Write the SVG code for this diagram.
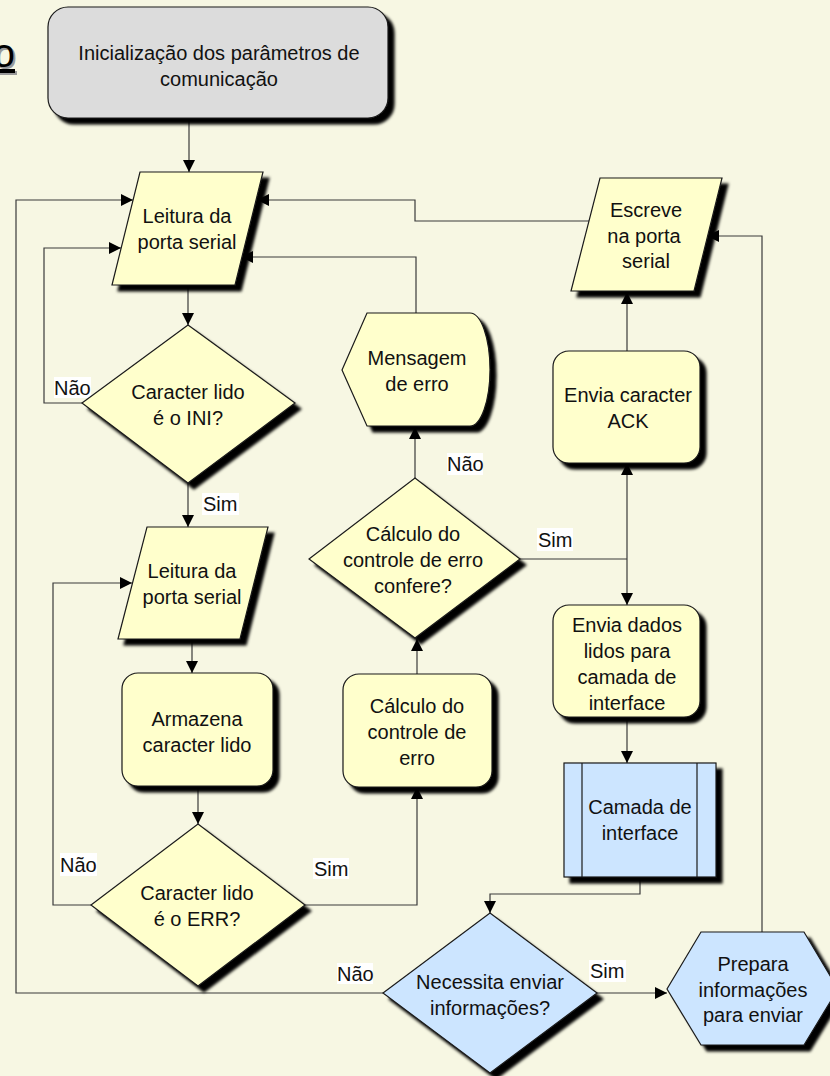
<svg xmlns="http://www.w3.org/2000/svg" width="830" height="1076" viewBox="0 0 830 1076">
  <style>
    .bg { fill: #F7F7E3; }
    .shape { stroke: #1a1a1a; stroke-width: 1.2; filter: url(#shadow); }
    .yellow { fill: #FFFFCC; }
    .blue { fill: #CCE5FF; }
    .gray { fill: #DCDCDC; }
    .t { font-family: "Liberation Sans", Arial, sans-serif; font-size: 20px; fill: #111; text-anchor: middle; }
    .conn { fill: none; stroke: #3a3a3a; stroke-width: 1.2; }
    .lblbox { fill: #FFFFFF; }
    .lbl { font-family: "Liberation Sans", Arial, sans-serif; font-size: 20px; fill: #111; }
  </style>
  <defs>
    <filter id="shadow" x="-10%" y="-10%" width="130%" height="130%">
      <feGaussianBlur in="SourceAlpha" stdDeviation="1.6"/>
      <feOffset dx="6" dy="6"/>
      <feComponentTransfer><feFuncA type="linear" slope="1"/></feComponentTransfer>
      <feMerge><feMergeNode/><feMergeNode in="SourceGraphic"/></feMerge>
    </filter>
    <marker id="arrow" markerUnits="userSpaceOnUse" markerWidth="12" markerHeight="12" refX="12" refY="6" orient="auto">
      <path d="M0,0 L12,6 L0,12 Z" fill="#000"/>
    </marker>
  </defs>

  <rect class="bg" x="0" y="0" width="830" height="1076"/>

  <!-- title fragment, running off the left edge -->
  <g id="title">
    <text x="17" y="69" font-family="Liberation Sans, Arial, sans-serif" font-size="40" fill="#999" text-anchor="end" text-decoration="underline">o</text>
    <text x="15" y="67" font-family="Liberation Sans, Arial, sans-serif" font-size="40" fill="#000" text-anchor="end" text-decoration="underline">o</text>
  </g>

  <!-- connectors -->
  <g id="connectors">
    <path class="conn" d="M189,118 V172" marker-end="url(#arrow)"/>
    <path class="conn" d="M188,285 V325" marker-end="url(#arrow)"/>
    <path class="conn" d="M82,403 H44 V248 H121" marker-end="url(#arrow)"/>
    <path class="conn" d="M188,483 V527" marker-end="url(#arrow)"/>
    <path class="conn" d="M192,639 V673" marker-end="url(#arrow)"/>
    <path class="conn" d="M198,786 V824" marker-end="url(#arrow)"/>
    <path class="conn" d="M91,905 H53 V583 H132" marker-end="url(#arrow)"/>
    <path class="conn" d="M305,905 H417 V787" marker-end="url(#arrow)"/>
    <path class="conn" d="M417,674 V639" marker-end="url(#arrow)"/>
    <path class="conn" d="M415,478 V427" marker-end="url(#arrow)"/>
    <path class="conn" d="M416,313 V257 H241" marker-end="url(#arrow)"/>
    <path class="conn" d="M520,559 H627"/>
    <path class="conn" d="M627,559 V463" marker-end="url(#arrow)"/>
    <path class="conn" d="M627,559 V605" marker-end="url(#arrow)"/>
    <path class="conn" d="M627,351 V292" marker-end="url(#arrow)"/>
    <path class="conn" d="M589,221 H415 V200 H257" marker-end="url(#arrow)"/>
    <path class="conn" d="M627,717 V763" marker-end="url(#arrow)"/>
    <path class="conn" d="M640,877 V894 H490 V913" marker-end="url(#arrow)"/>
    <path class="conn" d="M383,993 H16 V200 H133" marker-end="url(#arrow)"/>
    <path class="conn" d="M597,993 H667" marker-end="url(#arrow)"/>
    <path class="conn" d="M762,932 V236 H707" marker-end="url(#arrow)"/>
  </g>

  <!-- connector labels -->
  <g id="labels">
    <rect class="lblbox" x="54" y="377" width="37" height="21"/>
    <text class="lbl" x="54" y="395">Não</text>
    <rect class="lblbox" x="202" y="493" width="37" height="22"/>
    <text class="lbl" x="203" y="511">Sim</text>
    <rect class="lblbox" x="447" y="453" width="36" height="22"/>
    <text class="lbl" x="447" y="471">Não</text>
    <rect class="lblbox" x="537" y="528" width="36" height="23"/>
    <text class="lbl" x="538" y="547">Sim</text>
    <rect class="lblbox" x="60" y="853" width="37" height="23"/>
    <text class="lbl" x="60" y="872">Não</text>
    <rect class="lblbox" x="313" y="858" width="36" height="21"/>
    <text class="lbl" x="314" y="876">Sim</text>
    <rect class="lblbox" x="337" y="963" width="36" height="21"/>
    <text class="lbl" x="337" y="981">Não</text>
    <rect class="lblbox" x="589" y="960" width="37" height="22"/>
    <text class="lbl" x="590" y="978">Sim</text>
  </g>

  <g id="init">
    <rect class="shape gray" x="48" y="7" width="340" height="111" rx="20" ry="20"/>
    <text class="t" x="219" y="60">Inicialização dos parâmetros de</text>
    <text class="t" x="219" y="86">comunicação</text>
  </g>

  <g id="read1">
    <polygon class="shape yellow" points="140,172 263,172 235,285 112,285"/>
    <text class="t" x="187" y="223">Leitura da</text>
    <text class="t" x="187" y="249">porta serial</text>
  </g>

  <g id="checkIni">
    <polygon class="shape yellow" points="188,325 295,403 188,483 82,403"/>
    <text class="t" x="188" y="399">Caracter lido</text>
    <text class="t" x="188" y="425">é o INI?</text>
  </g>

  <g id="read2">
    <polygon class="shape yellow" points="147,527 268,527 240,639 118,639"/>
    <text class="t" x="192" y="578">Leitura da</text>
    <text class="t" x="192" y="604">porta serial</text>
  </g>

  <g id="store">
    <rect class="shape yellow" x="122" y="673" width="151" height="113" rx="16" ry="16"/>
    <text class="t" x="197" y="726">Armazena</text>
    <text class="t" x="197" y="752">caracter lido</text>
  </g>

  <g id="checkErr">
    <polygon class="shape yellow" points="198,824 305,905 198,986 91,905"/>
    <text class="t" x="197" y="900">Caracter lido</text>
    <text class="t" x="197" y="926">é o ERR?</text>
  </g>

  <g id="calc">
    <rect class="shape yellow" x="343" y="674" width="149" height="113" rx="16" ry="16"/>
    <text class="t" x="417" y="713">Cálculo do</text>
    <text class="t" x="417" y="739">controle de</text>
    <text class="t" x="417" y="765">erro</text>
  </g>

  <g id="checkCalc">
    <polygon class="shape yellow" points="415,478 520,559 415,638 309,559"/>
    <text class="t" x="413" y="541">Cálculo do</text>
    <text class="t" x="413" y="567">controle de erro</text>
    <text class="t" x="413" y="593">confere?</text>
  </g>

  <g id="errorMsg">
    <path class="shape yellow" d="M367,313 H470 A20,56.5 0 0 1 470,426 H367 L342,370 Z"/>
    <text class="t" x="417" y="365">Mensagem</text>
    <text class="t" x="417" y="391">de erro</text>
  </g>

  <g id="sendAck">
    <rect class="shape yellow" x="553" y="351" width="147" height="112" rx="16" ry="16"/>
    <text class="t" x="628" y="402">Envia caracter</text>
    <text class="t" x="628" y="428">ACK</text>
  </g>

  <g id="writeSerial">
    <polygon class="shape yellow" points="600,178 722,178 694,291 571,291"/>
    <text class="t" x="646" y="217">Escreve</text>
    <text class="t" x="644" y="243">na porta</text>
    <text class="t" x="646" y="268">serial</text>
  </g>

  <g id="sendData">
    <rect class="shape yellow" x="553" y="605" width="147" height="112" rx="16" ry="16"/>
    <text class="t" x="627" y="632">Envia dados</text>
    <text class="t" x="627" y="658">lidos para</text>
    <text class="t" x="627" y="684">camada de</text>
    <text class="t" x="627" y="710">interface</text>
  </g>

  <g id="interfaceLayer">
    <rect class="shape blue" x="564" y="763" width="152" height="114"/>
    <line x1="582" y1="763" x2="582" y2="877" stroke="#1a1a1a" stroke-width="1.2"/>
    <line x1="697" y1="763" x2="697" y2="877" stroke="#1a1a1a" stroke-width="1.2"/>
    <text class="t" x="640" y="814">Camada de</text>
    <text class="t" x="640" y="840">interface</text>
  </g>

  <g id="needSend">
    <polygon class="shape blue" points="490,913 597,993 490,1073 383,993"/>
    <text class="t" x="490" y="989">Necessita enviar</text>
    <text class="t" x="490" y="1015">informações?</text>
  </g>

  <g id="prepare">
    <polygon class="shape blue" points="701,932 804,932 838,989 804,1045 701,1045 667,989"/>
    <text class="t" x="753" y="971">Prepara</text>
    <text class="t" x="753" y="997">informações</text>
    <text class="t" x="753" y="1022">para enviar</text>
  </g>
</svg>
